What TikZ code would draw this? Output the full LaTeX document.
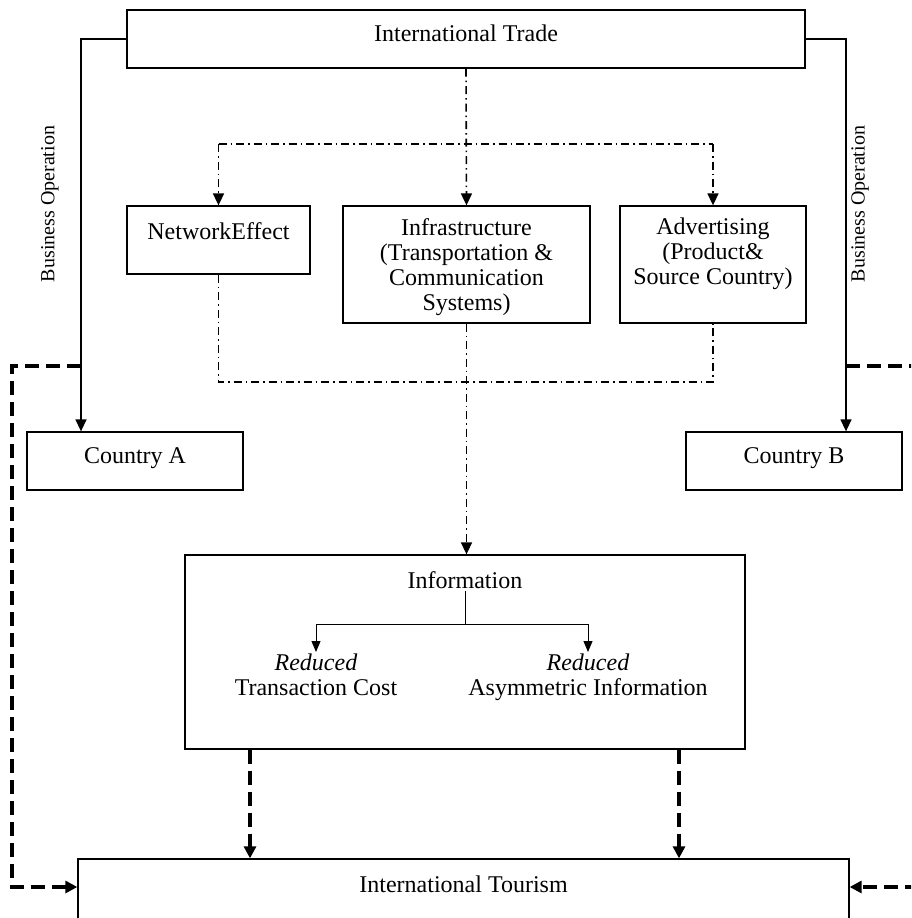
\documentclass[tikz,border=0pt]{standalone}
\usepackage{fontspec}
\setmainfont{Liberation Serif}
\usetikzlibrary{arrows.meta}

\tikzset{
  box/.style={draw, line width=1.3pt, inner sep=0pt},
  txt/.style={font=\fontsize{24}{25}\selectfont, align=center, inner sep=2pt},
  sidetxt/.style={font=\fontsize{20}{22}\selectfont, rotate=90, inner sep=0pt},
  flow/.style={line width=1.4pt, -{Triangle[width=11pt,length=12pt]}},
  thinflow/.style={line width=0.9pt, -{Triangle[width=9pt,length=11pt]}},
  dd/.style={line width=1.6pt, dash pattern=on 8pt off 4pt on 1.5pt off 4pt},
  ddflow/.style={dd, -{Triangle[width=11pt,length=12pt]}},
  dashflow/.style={line width=3.2pt, dash pattern=on 14pt off 7pt, -{Triangle[width=12pt,length=12pt]}}
}

\begin{document}
\begin{tikzpicture}[x=1pt, y=-1pt]
    \useasboundingbox (0,0) rectangle (911,918);
    \clip (0,0) rectangle (911,918);

    % International Trade
    \node[box, minimum width=678, minimum height=58] (trade) at (466,39) {};
    \node[txt] (tradetxt) at (466,33) {International Trade};

    % Three channels
    \node[box, minimum width=183, minimum height=68] (net) at (218.5,240) {};
    \node[txt] (nettxt) at (218.5,231) {NetworkEffect};
    \node[box, minimum width=247, minimum height=117] (infra) at (466.5,264.5) {};
    \node[txt] (infratxt) at (466.5,267) {Infrastructure\\(Transportation \&\\Communication\\Systems)};
    \node[box, minimum width=186, minimum height=117] (adv) at (713,264.5) {};
    \node[txt] (advtxt) at (713,254) {Advertising\\(Product\&\\Source Country)};

    % Countries
    \node[box, minimum width=216, minimum height=58] (ctryA) at (135,461) {};
    \node[txt] (ctryAtxt) at (135,458) {Country A};
    \node[box, minimum width=216, minimum height=58] (ctryB) at (794,461) {};
    \node[txt] (ctryBtxt) at (794,458) {Country B};

    % Information
    \node[box, minimum width=560, minimum height=194] (info) at (465,652) {};
    \node[txt] (infotxt) at (465,580) {Information};
    \node[txt, anchor=north] (redcost) at (316,652) {\textit{Reduced}\\Transaction Cost};
    \node[txt, anchor=north] (redasym) at (588,652) {\textit{Reduced}\\Asymmetric Information};

    % International Tourism
    \node[box, minimum width=771, minimum height=80] (tour) at (463.5,899) {};
    \node[txt] (tourtxt) at (463.5,884) {International Tourism};

    % Business operation
    \draw[flow] (trade.west) -| ([xshift=-54pt]ctryA.north);
    \draw[flow] (trade.east) -| ([xshift=52pt]ctryB.north);
    \node[sidetxt] (busA) at (50,204) {Business Operation};
    \node[sidetxt] (busB) at (860,204) {Business Operation};

    % Trade to channels
    \coordinate (ddtop) at (466,144);
    \coordinate (ddbot) at (466,382);
    \draw[ddflow] (trade.south) -- (infra.north);
    \draw[dd] (ddtop -| net.north) -- (ddtop -| adv.north);
    \draw[ddflow] (ddtop -| net.north) -- (net.north);
    \draw[ddflow] (ddtop -| adv.north) -- (adv.north);

    % Channels to information
    \draw[dd] (net.south) |- (ddbot -| adv.south) -- (adv.south);
    \draw[ddflow] (infra.south) -- (infra.south |- info.north);

    % Inside information
    \coordinate (ibranch) at (465,624);
    \draw[line width=0.9pt] (infotxt.south) -- (ibranch);
    \draw[thinflow] (ibranch) -| (redcost.north);
    \draw[thinflow] (ibranch) -| (redasym.north);

    % Information to tourism
    \draw[dashflow] ([xshift=-215pt]info.south) -- ([xshift=-215pt]info.south |- tour.north);
    \draw[dashflow] ([xshift=214pt]info.south) -- ([xshift=214pt]info.south |- tour.north);

    % Countries to tourism
    \coordinate (loopA) at (81,366);
    \coordinate (loopB) at (846,366);
    \draw[dashflow] (loopA) -| (12,887) -- ([yshift=12pt]tour.west);
    \draw[dashflow] (loopB) -| (916,887) -- ([yshift=12pt]tour.east);
\end{tikzpicture}
\end{document}
